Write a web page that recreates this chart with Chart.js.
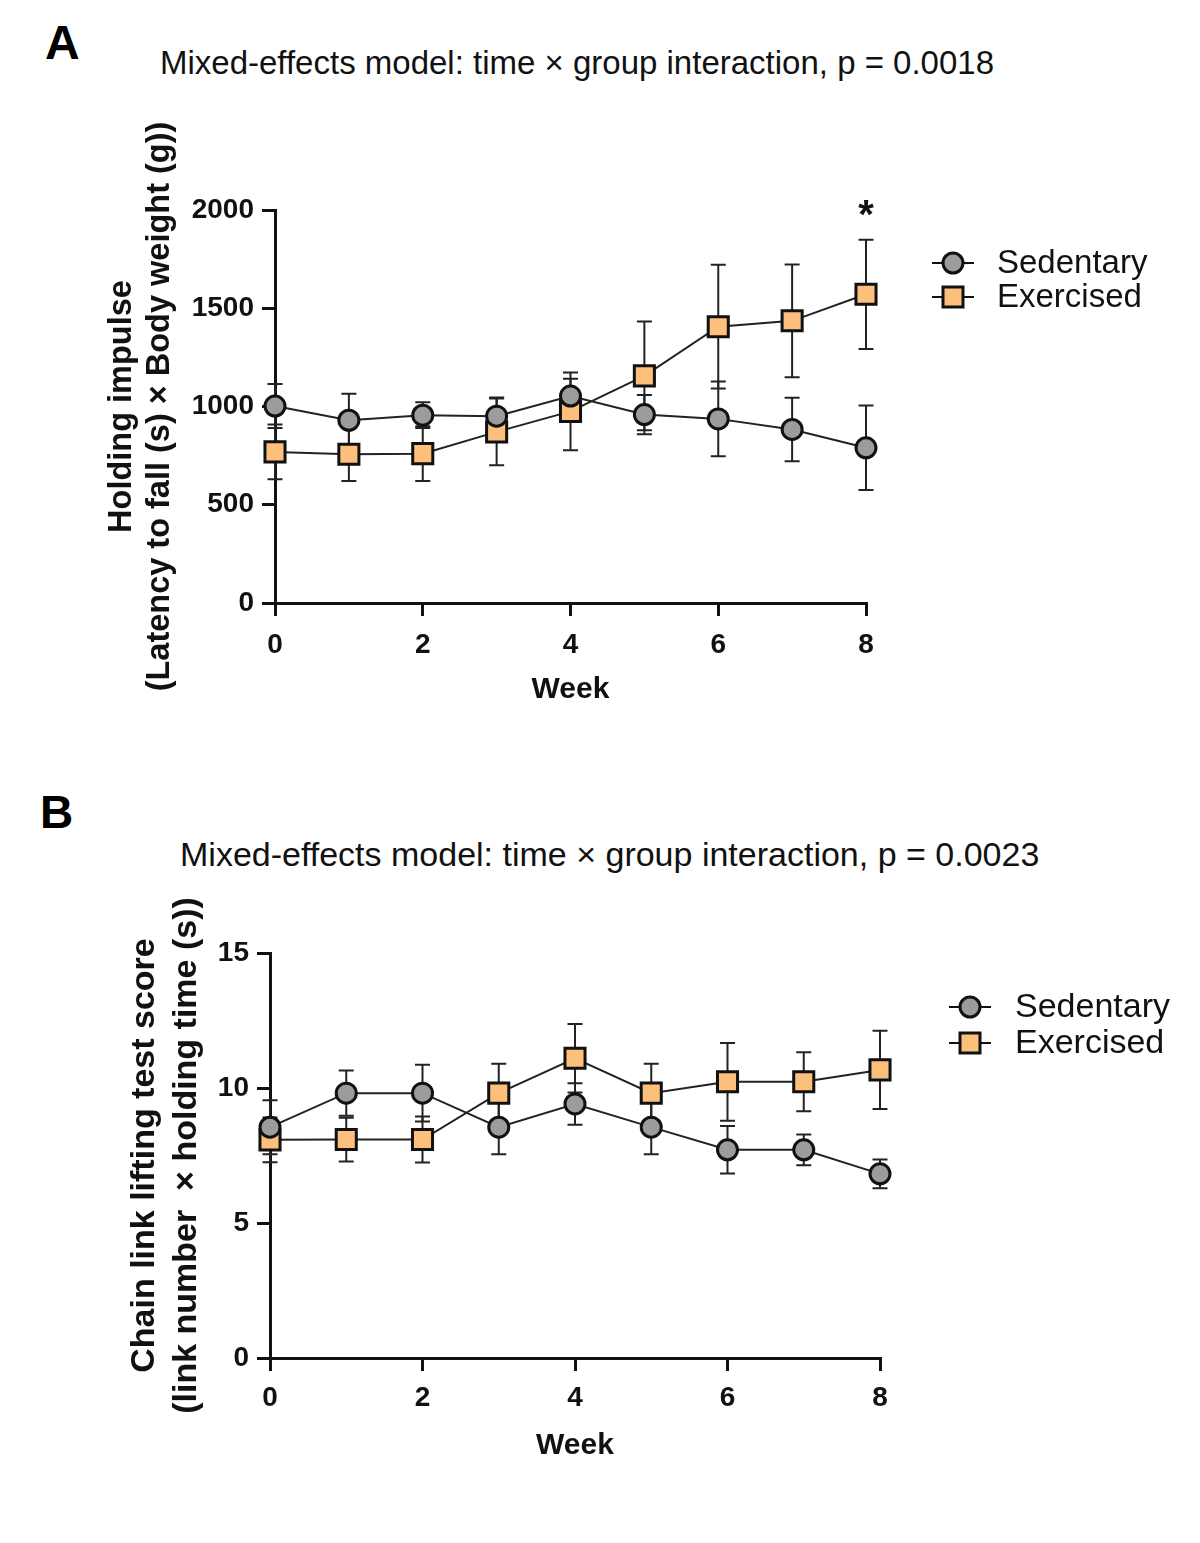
<!DOCTYPE html>
<html>
<head>
<meta charset="utf-8">
<style>
  body {
    margin: 0;
    background: #fff;
    font-family: "Liberation Sans", Arial, sans-serif;
  }
  #page {
    position: relative;
    width: 1200px;
    height: 1543px;
    overflow: hidden;
  }
  canvas { position: absolute; left: 0; }
  #chartA { top: 0; }
  #chartB { top: 760px; }
  .panel-letter {
    position: absolute;
    font-weight: bold;
    line-height: 60px;
    color: #000;
  }
  .panel-title {
    position: absolute;
    line-height: 40px;
    white-space: nowrap;
    color: #111;
  }
</style>
<script src="https://cdn.jsdelivr.net/npm/chart.js"></script>
</head>
<body>
<div id="page">
  <div class="panel-letter" style="left:45px; top:13px; font-size:48px;">A</div>
  <div class="panel-title" style="left:160px; top:43px; font-size:33px;">Mixed-effects model: time × group interaction, p = 0.0018</div>
  <canvas id="chartA" width="1200" height="740"></canvas>

  <div class="panel-letter" style="left:40px; top:782px; font-size:46px;">B</div>
  <div class="panel-title" style="left:180px; top:834px; font-size:34px;">Mixed-effects model: time × group interaction, p = 0.0023</div>
  <canvas id="chartB" width="1200" height="740"></canvas>
</div>

<script>
  // x categories (weeks) and tick labels
  const weeks = [0, 1, 2, 3, 4, 5, 6, 7, 8];
  const seriesNames = ["Sedentary", "Exercised"];

  // Panel A - holding impulse (mean and SEM)
  const impulseSedentary = [1002, 930, 956, 951, 1053, 959, 937, 883, 790];
  const impulseSedentarySem = [112, 135, 65, 95, 88, 100, 190, 162, 215];
  const impulseExercised = [769, 757, 760, 871, 975, 1156, 1406, 1436, 1571];
  const impulseExercisedSem = [139, 136, 139, 170, 198, 277, 315, 287, 278];
  const impulseStarWeeks = [8];

  // Panel B - chain link lifting score (mean and SEM)
  const chainSedentary = [8.55, 9.81, 9.81, 8.55, 9.41, 8.55, 7.71, 7.71, 6.82];
  const chainSedentarySem = [1.0, 0.84, 1.05, 1.0, 0.77, 1.0, 0.88, 0.57, 0.53];
  const chainExercised = [8.08, 8.09, 8.09, 9.81, 11.1, 9.81, 10.23, 10.23, 10.67];
  const chainExercisedSem = [0.83, 0.81, 0.85, 1.09, 1.27, 1.09, 1.44, 1.09, 1.45];
  const chainStarWeeks = [];

  const INK = "#111";
  const GREY = "#9c9c9c";
  const ORANGE = "#fdbf7c";

  Chart.defaults.font.family = "'Liberation Sans', Arial, sans-serif";
  Chart.defaults.color = INK;

  // vertical error bars with caps, drawn under the markers
  const errorBars = {
    id: "errorBars",
    beforeDatasetsDraw(chart) {
      const { ctx } = chart;
      const x = chart.scales.x, y = chart.scales.y;
      ctx.save();
      ctx.strokeStyle = "#222";
      ctx.lineWidth = 2;
      chart.data.datasets.forEach(ds => {
        ds.data.forEach((p, i) => {
          const px = x.getPixelForValue(p.x);
          const top = y.getPixelForValue(p.y + ds.sem[i]);
          const bot = y.getPixelForValue(p.y - ds.sem[i]);
          ctx.beginPath();
          ctx.moveTo(px, top); ctx.lineTo(px, bot);
          ctx.moveTo(px - 7.5, top); ctx.lineTo(px + 7.5, top);
          ctx.moveTo(px - 7.5, bot); ctx.lineTo(px + 7.5, bot);
          ctx.stroke();
        });
      });
      ctx.restore();
    }
  };

  function drawMarker(ctx, style, cx, cy, fill) {
    ctx.fillStyle = fill;
    ctx.strokeStyle = INK;
    ctx.lineWidth = 3;
    ctx.beginPath();
    if (style === "rect") {
      ctx.rect(cx - 10, cy - 10, 20, 20);
    } else {
      ctx.arc(cx, cy, 10, 0, Math.PI * 2);
    }
    ctx.fill();
    ctx.stroke();
  }

  function buildPanel(id, o) {
    // legend at right of plot + significance stars
    const extras = {
      id: "extras",
      afterDraw(chart) {
        const { ctx } = chart;
        ctx.save();
        chart.data.datasets.forEach((ds, i) => {
          const cy = o.legendY + i * o.legendGap;
          ctx.strokeStyle = INK;
          ctx.lineWidth = 2;
          ctx.beginPath();
          ctx.moveTo(o.legendX - 21, cy);
          ctx.lineTo(o.legendX + 21, cy);
          ctx.stroke();
          drawMarker(ctx, ds.pointStyle, o.legendX, cy, ds.pointBackgroundColor);
          ctx.fillStyle = INK;
          ctx.font = o.legendFont + "px 'Liberation Sans', Arial, sans-serif";
          ctx.textBaseline = "middle";
          ctx.textAlign = "left";
          ctx.fillText(ds.label, o.legendTextX, cy + 1);
        });
        const ex = chart.data.datasets[1];
        o.stars.forEach(w => {
          const i = weeks.indexOf(w);
          const px = chart.scales.x.getPixelForValue(w);
          const py = chart.scales.y.getPixelForValue(ex.data[i].y + ex.sem[i]);
          ctx.fillStyle = INK;
          ctx.font = "bold 40px 'Liberation Sans', Arial, sans-serif";
          ctx.textAlign = "center";
          ctx.textBaseline = "alphabetic";
          ctx.fillText("*", px, py - 12);
        });
        ctx.restore();
      }
    };

    return new Chart(document.getElementById(id), {
      type: "line",
      data: {
        datasets: [
          {
            label: seriesNames[0],
            data: weeks.map((w, i) => ({ x: w, y: o.sed[i] })),
            sem: o.sedSem,
            borderColor: "#222",
            borderWidth: 2,
            pointStyle: "circle",
            pointRadius: 10,
            pointBorderWidth: 3,
            pointBackgroundColor: GREY,
            pointBorderColor: INK,
            clip: false
          },
          {
            label: seriesNames[1],
            data: weeks.map((w, i) => ({ x: w, y: o.ex[i] })),
            sem: o.exSem,
            borderColor: "#222",
            borderWidth: 2,
            pointStyle: "rect",
            pointRadius: 14.2,
            pointBorderWidth: 3,
            pointBackgroundColor: ORANGE,
            pointBorderColor: INK,
            clip: false
          }
        ]
      },
      options: {
        responsive: false,
        animation: false,
        devicePixelRatio: 1,
        layout: { padding: { left: 0, top: o.top, right: 1200 - o.right, bottom: 0 } },
        plugins: {
          legend: { display: false },
          tooltip: { enabled: false },
          title: { display: false }
        },
        scales: {
          x: {
            type: "linear",
            min: 0,
            max: 8,
            ticks: {
              stepSize: 2,
              maxRotation: 0,
              minRotation: 0,
              color: INK,
              padding: o.xTickPad,
              font: { size: 28, weight: "bold" }
            },
            grid: { drawOnChartArea: false, drawTicks: true, tickLength: 13, color: INK, lineWidth: 3 },
            border: { display: true, color: INK, width: 3 },
            title: {
              display: true,
              text: "Week",
              color: INK,
              font: { size: 30, weight: "bold" },
              padding: { top: 0, bottom: o.weekPad }
            },
            afterFit(s) {
              s.height = o.xAxisH;
              s.paddingLeft = 0;
              s.paddingRight = 0;
            }
          },
          y: {
            type: "linear",
            min: 0,
            max: o.yMax,
            ticks: {
              stepSize: o.yStep,
              color: INK,
              padding: 8,
              font: { size: 28, weight: "bold" },
              callback: v => String(v)
            },
            grid: { drawOnChartArea: false, drawTicks: true, tickLength: 13, color: INK, lineWidth: 3 },
            border: { display: true, color: INK, width: 3 },
            title: {
              display: true,
              text: o.yTitle,
              color: INK,
              font: { size: o.yTitleSize, weight: "bold", lineHeight: o.yTitleLH },
              padding: { top: o.yTitlePad, bottom: 0 }
            },
            afterFit(s) {
              s.width = o.left;
              s.paddingTop = 0;
              s.paddingBottom = 0;
            }
          }
        }
      },
      plugins: [errorBars, extras]
    });
  }

  buildPanel("chartA", {
    sed: impulseSedentary, sedSem: impulseSedentarySem,
    ex: impulseExercised, exSem: impulseExercisedSem,
    stars: impulseStarWeeks,
    yMax: 2000, yStep: 500,
    yTitle: ["Holding impulse", "(Latency to fall (s) × Body weight (g))"],
    yTitleSize: 32.5, yTitleLH: 1.17, yTitlePad: 103,
    left: 275, right: 866, top: 210, xAxisH: 137,
    xTickPad: 12, weekPad: 32,
    legendX: 953, legendY: 263, legendGap: 34, legendTextX: 997, legendFont: 33
  });

  buildPanel("chartB", {
    sed: chainSedentary, sedSem: chainSedentarySem,
    ex: chainExercised, exSem: chainExercisedSem,
    stars: chainStarWeeks,
    yMax: 15, yStep: 5,
    yTitle: ["Chain link lifting test score", "(link number  × holding time (s))"],
    yTitleSize: 34, yTitleLH: 1.22, yTitlePad: 124,
    left: 270, right: 880, top: 193, xAxisH: 142,
    xTickPad: 10, weekPad: 36,
    legendX: 970, legendY: 247, legendGap: 36, legendTextX: 1015, legendFont: 34
  });
</script>
</body>
</html>
